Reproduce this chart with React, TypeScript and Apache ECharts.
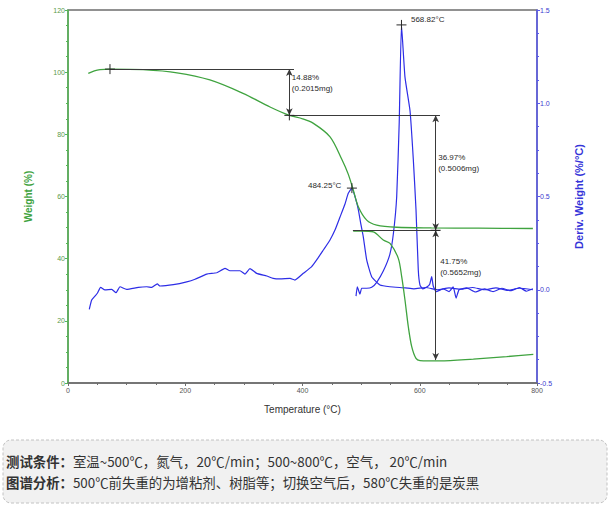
import React, { useEffect, useRef } from 'react';
import * as echarts from 'echarts';

// TGA run in nitrogen: temperature (°C) vs residual weight (%)
const n2Temp = [34.6, 45, 54.6, 71.6, 128, 186, 242, 298.5, 344.6, 377.6, 400, 418, 447, 467, 478, 486.6, 495.2, 509.5, 526.6, 560.7, 620, 700, 793];
const n2Weight = [99.6, 100.4, 100.8, 101.0, 100.8, 99.8, 97.5, 93.2, 88.8, 86.1, 85.0, 83.6, 79.2, 72.0, 67.2, 62.1, 56.7, 52.4, 50.8, 50.1, 49.9, 49.8, 49.7];

// TGA run after switching to air
const airTemp = [486.5, 500, 520.8, 537.8, 549.3, 563.4, 569.2, 574.8, 580.5, 586.3, 593.6, 600.4, 634.5, 691.3, 748.3, 793.7];
const airWeight = [48.9, 48.9, 48.6, 46.0, 44.9, 40.1, 34.2, 26.7, 18.1, 11.7, 7.9, 7.2, 7.1, 7.7, 8.5, 9.2];

// Derivative weight (%/°C), nitrogen run
const n2DtgTemp = [36.3, 40.4, 46, 50, 55.7, 63, 74.5, 81.9, 88.7, 100, 120, 134.2, 142.8, 152.3, 157, 179.7, 202.5, 216.6, 236.6, 253.6, 267.8, 276.3, 293.4, 301.9, 310.4, 321.8, 339, 350, 361.6, 378.7, 387, 401.4, 415.6, 424.2, 435.5, 446.9, 455.4, 464, 472.5, 478.1, 484.25, 491.3, 495.2, 499.3, 503.7, 509.5, 518, 532.2, 549, 575, 590, 610, 630, 650, 670, 690, 710, 730, 750, 770, 793];
const n2Dtg = [-0.105, -0.055, -0.034, -0.019, 0.013, -0.001, 0.002, -0.016, 0.016, 0.002, 0.013, 0.016, 0.013, 0.031, 0.02, 0.027, 0.042, 0.056, 0.084, 0.091, 0.115, 0.102, 0.102, 0.084, 0.113, 0.088, 0.074, 0.061, 0.058, 0.061, 0.052, 0.088, 0.124, 0.16, 0.213, 0.267, 0.32, 0.39, 0.46, 0.517, 0.545, 0.48, 0.43, 0.356, 0.284, 0.16, 0.07, 0.025, 0.016, 0.01, 0.005, 0.012, 0.0, 0.01, 0.003, 0.012, 0.0, 0.01, -0.003, 0.008, 0.0];

// Derivative weight (%/°C), air run
const airDtgTemp = [491.3, 493.5, 498, 501, 509.5, 518, 526.6, 537.8, 549, 555, 560.7, 565, 568.82, 574.8, 583.4, 589, 593.6, 597.5, 600.4, 605, 612, 617, 620.4, 623, 628, 640, 650, 657, 662, 667, 680, 695, 710, 725, 740, 755, 770, 782, 793];
const airDtg = [-0.034, 0.016, -0.023, 0.008, 0.008, 0.013, 0.04, 0.1, 0.19, 0.3, 0.5, 0.9, 1.42, 1.14, 0.96, 0.7, 0.43, 0.106, 0.025, 0.005, 0.015, 0.03, 0.07, 0.02, -0.01, 0.005, -0.01, 0.015, -0.045, 0.0, 0.01, -0.012, 0.005, -0.01, 0.008, -0.005, 0.012, -0.008, 0.005];

// Step analysis of the weight curve
const stepStartWeight = 100.98;
const stepLoss = [14.88, 36.97, 41.75];
const stepMass = ['0.2015', '0.5006', '0.5652'];

// DTG peak temperatures and heights
const peakTemp = [484.25, 568.82];
const peakDtg = [0.545, 1.42];

const captionConditions = '测试条件：';
const captionConditionsText = '室温~500℃，氮气，20℃/min；500~800℃，空气， 20℃/min';
const captionAnalysis = '图谱分析：';
const captionAnalysisText = '500℃前失重的为增粘剂、树脂等；切换空气后，580℃失重的是炭黑';

const GREEN = '#3fa33f';
const BLUE = '#2d2de6';
const INK = '#2a2a2a';
const FONT = 'Liberation Sans, Arial, sans-serif';
const CJK = 'Noto Sans CJK SC, sans-serif';

const crossSymbol = 'path://M0 5 L10 5 M5 0 L5 10';

export default function App() {
  const ref = useRef<HTMLDivElement>(null);

  useEffect(() => {
    if (!ref.current) return;
    const chart = echarts.init(ref.current, undefined, { renderer: 'svg' });

    // cumulative weight levels between the steps
    const levels = [stepStartWeight];
    stepLoss.forEach((l) => levels.push(+(levels[levels.length - 1] - l).toFixed(2)));

    const guideSpans = [[71.6, 385.5], [377.6, 634.5], [486, 634.5]];
    const arrowTemps = [377.6, 627.2, 627.2];
    const labelAnchors = [[377.6, 96.5], [627.2, 70.8], [627.2, 37.2]];

    const guideLines = guideSpans.map((s, i) => [
      { coord: [s[0], levels[i]], symbol: 'none' },
      { coord: [s[1], levels[i]], symbol: 'none' },
    ]);
    const arrowLines = arrowTemps.map((t, i) => [
      { coord: [t, levels[i]], symbol: 'arrow', symbolSize: [5, 7] },
      { coord: [t, levels[i + 1]], symbol: 'arrow', symbolSize: [5, 7] },
    ]);

    const crossStyle = { color: 'none', borderColor: INK, borderWidth: 1 };
    const smallText = { fontSize: 8, color: INK, fontFamily: FONT, lineHeight: 11 };

    const stepMarks = [
      { coord: [71.6, levels[0]], symbol: crossSymbol, symbolSize: 10, itemStyle: crossStyle, label: { show: false } },
      { coord: [377.6, levels[1]], symbol: crossSymbol, symbolSize: 10, itemStyle: crossStyle, label: { show: false } },
      { coord: [627.2, levels[2]], symbol: crossSymbol, symbolSize: 10, itemStyle: crossStyle, label: { show: false } },
      ...labelAnchors.map((a, i) => ({
        coord: a,
        symbol: 'circle',
        symbolSize: 1,
        itemStyle: { color: 'transparent' },
        label: {
          show: true,
          position: 'right',
          distance: i === 2 ? 4 : 2,
          align: 'left',
          formatter: `${stepLoss[i].toFixed(2)}%\n(${stepMass[i]}mg)`,
          ...smallText,
        },
      })),
    ];

    const pair = (xs: number[], ys: number[]) => xs.map((x, i) => [x, ys[i]]);

    chart.setOption({
      animation: false,
      backgroundColor: '#ffffff',
      textStyle: { fontFamily: FONT },
      grid: {
        left: 68,
        right: 76,
        top: 10,
        bottom: 128,
        show: true,
        borderColor: '#6e6e6e',
        borderWidth: 1.5,
        outerBoundsMode: 'none',
      },
      xAxis: {
        type: 'value',
        min: 0,
        max: 800,
        interval: 200,
        name: 'Temperature (°C)',
        nameLocation: 'middle',
        nameGap: 21,
        nameTextStyle: { fontSize: 10, color: '#333', fontFamily: FONT },
        axisLine: { show: true, lineStyle: { color: '#6e6e6e', width: 1.5 } },
        axisTick: { show: true, length: 3, lineStyle: { color: '#6e6e6e' } },
        minorTick: { show: true, splitNumber: 4, length: 2, lineStyle: { color: '#6e6e6e' } },
        axisLabel: { fontSize: 7, color: '#555', margin: 4 },
        splitLine: { show: false },
      },
      yAxis: [
        {
          type: 'value',
          position: 'left',
          min: 0,
          max: 120,
          interval: 20,
          name: 'Weight (%)',
          nameLocation: 'middle',
          nameGap: 35,
          nameTextStyle: { fontSize: 10, fontWeight: 'bold', color: GREEN, fontFamily: FONT },
          axisLine: { show: true, lineStyle: { color: '#55b855', width: 1.5 } },
          axisTick: { show: true, length: 3, lineStyle: { color: '#55b855' } },
          minorTick: { show: true, splitNumber: 4, length: 2, lineStyle: { color: '#55b855' } },
          axisLabel: { fontSize: 7, color: '#5a9a4a', margin: 3 },
          splitLine: { show: false },
        },
        {
          type: 'value',
          position: 'right',
          min: -0.5,
          max: 1.5,
          interval: 0.5,
          name: 'Deriv. Weight (%/°C)',
          nameLocation: 'middle',
          nameGap: 36,
          nameTextStyle: { fontSize: 11, fontWeight: 'bold', color: '#3535d8', fontFamily: FONT },
          axisLine: { show: true, lineStyle: { color: '#5a5aee', width: 1.5 } },
          axisTick: { show: true, length: 3, lineStyle: { color: '#5a5aee' } },
          minorTick: { show: true, splitNumber: 4, length: 2, lineStyle: { color: '#5a5aee' } },
          axisLabel: { fontSize: 7, color: '#3a3ad0', margin: 3, formatter: (v: number) => v.toFixed(1) },
          splitLine: { show: false },
        },
      ],
      series: [
        {
          name: 'Weight N2',
          type: 'line',
          yAxisIndex: 0,
          showSymbol: false,
          smooth: 0.3,
          lineStyle: { color: GREEN, width: 1.3 },
          data: pair(n2Temp, n2Weight),
          z: 3,
        },
        {
          name: 'Weight air',
          type: 'line',
          yAxisIndex: 0,
          showSymbol: false,
          smooth: 0.3,
          lineStyle: { color: GREEN, width: 1.3 },
          data: pair(airTemp, airWeight),
          z: 3,
        },
        {
          name: 'Deriv. N2',
          type: 'line',
          yAxisIndex: 1,
          showSymbol: false,
          smooth: 0.15,
          lineStyle: { color: BLUE, width: 1.2 },
          data: pair(n2DtgTemp, n2Dtg),
          z: 2,
          markPoint: {
            silent: true,
            data: [
              {
                coord: [peakTemp[0], peakDtg[0]],
                symbol: crossSymbol,
                symbolSize: 10,
                itemStyle: crossStyle,
                label: {
                  show: true,
                  position: 'left',
                  distance: 3,
                  offset: [0, -3],
                  formatter: `${peakTemp[0].toFixed(2)}°C`,
                  ...smallText,
                },
              },
            ],
          },
        },
        {
          name: 'Deriv. air',
          type: 'line',
          yAxisIndex: 1,
          showSymbol: false,
          smooth: 0.15,
          lineStyle: { color: BLUE, width: 1.2 },
          data: pair(airDtgTemp, airDtg),
          z: 2,
          markPoint: {
            silent: true,
            data: [
              {
                coord: [peakTemp[1], peakDtg[1]],
                symbol: crossSymbol,
                symbolSize: 10,
                itemStyle: crossStyle,
                label: {
                  show: true,
                  position: 'right',
                  distance: 2,
                  offset: [0, -5],
                  formatter: `${peakTemp[1].toFixed(2)}°C`,
                  ...smallText,
                },
              },
            ],
          },
        },
        {
          name: 'Steps',
          type: 'line',
          yAxisIndex: 0,
          data: [],
          z: 5,
          markLine: {
            silent: true,
            animation: false,
            label: { show: false },
            lineStyle: { color: '#3a3a3a', width: 1, type: 'solid' },
            data: [...guideLines, ...arrowLines],
          },
          markPoint: {
            silent: true,
            data: stepMarks,
          },
        },
      ],
      graphic: [
        {
          type: 'rect',
          shape: { x: 3, y: 440, width: 604, height: 63, r: 8 },
          style: { fill: '#f1f1f1', stroke: '#c2c2c2', lineWidth: 1, lineDash: [3, 2] },
        },
        {
          type: 'text',
          x: 6,
          y: 461,
          style: {
            text: `{b|${captionConditions}}{n|${captionConditionsText}}`,
            verticalAlign: 'middle',
            rich: {
              b: { fontSize: 13.4, fontWeight: 'bold', fill: '#333', fontFamily: CJK },
              n: { fontSize: 13.4, fill: '#333', fontFamily: CJK },
            },
          },
        },
        {
          type: 'text',
          x: 6,
          y: 482,
          style: {
            text: `{b|${captionAnalysis}}{n|${captionAnalysisText}}`,
            verticalAlign: 'middle',
            rich: {
              b: { fontSize: 13.4, fontWeight: 'bold', fill: '#333', fontFamily: CJK },
              n: { fontSize: 13.4, fill: '#333', fontFamily: CJK },
            },
          },
        },
      ],
    });

    return () => chart.dispose();
  }, []);

  return (
    <div
      ref={ref}
      style={{ position: 'absolute', left: 0, top: 0, width: 613, height: 511, background: '#fff' }}
    />
  );
}
